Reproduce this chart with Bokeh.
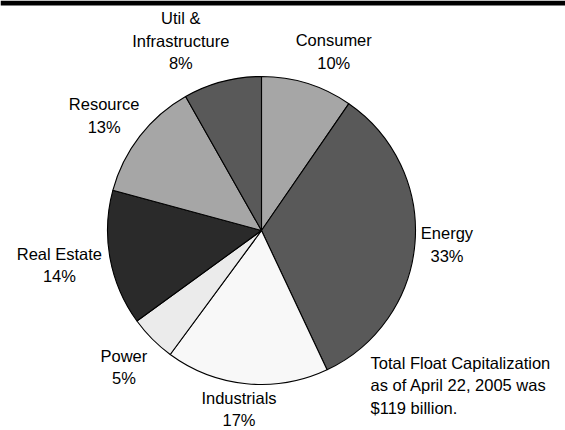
import math
from bokeh.plotting import figure
from bokeh.models import Range1d, BoxAnnotation, Label
from bokeh.core.properties import value
from bokeh.embed import file_html
from bokeh.resources import INLINE

# ---- data ----
categories = ["Consumer", "Energy", "Industrials", "Power", "Real Estate", "Resource", "Util & Infrastructure"]
shares = [9.6, 33.4, 17.1, 4.9, 14.2, 12.6, 8.2]
label_names = [["Consumer"], ["Energy"], ["Industrials"], ["Power"], ["Real Estate"], ["Resource"], ["Util &", "Infrastructure"]]
pct_labels = ["10%", "33%", "17%", "5%", "14%", "13%", "8%"]
note_lines = ["Total Float Capitalization", "as of April 22, 2005 was", "$119 billion."]

# ---- styles / layout ----
colors = ["#a6a6a6", "#595959", "#f8f8f8", "#ebebeb", "#2a2a2a", "#a6a6a6", "#595959"]
W, H = 565, 430
cx, cy, R = 261, 200, 154
FONT = "Liberation Sans"
FS = "16.5px"
LH = 22.5
# per-label (angle nudge in degrees, distance from centre)
label_tweaks = [(4.7, 193), (-0.4, 186), (1.6, 180), (0.0, 194), (0.8, 205), (-1.6, 195), (-8.3, 206)]

p = figure(width=W, height=H, x_range=Range1d(0, W), y_range=Range1d(0, H),
           output_backend="svg", toolbar_location=None, min_border=0,
           background_fill_color="white", border_fill_color="white")
p.axis.visible = False
p.grid.visible = False
p.outline_line_color = None

total = sum(shares)
cum = 0.0
starts, ends, mids = [], [], []
for s in shares:
    t1 = cum / total * 360.0
    cum += s
    t2 = cum / total * 360.0
    # clockwise from top -> bokeh angle (anticlockwise from +x)
    starts.append(math.radians(90 - t2))
    ends.append(math.radians(90 - t1))
    mids.append((t1 + t2) / 2)

p.wedge(x=cx, y=cy, radius=R, start_angle=starts, end_angle=ends,
        fill_color=colors, line_color="black", line_width=1.1)

tx, ty, tt = [], [], []
for i in range(len(categories)):
    dth, d = label_tweaks[i]
    th = math.radians(mids[i] + dth)
    ax = cx + d * math.sin(th)
    ay = cy + d * math.cos(th)
    lines = label_names[i] + [pct_labels[i]]
    n = len(lines)
    for j, ln in enumerate(lines):
        tx.append(ax)
        ty.append(ay + ((n - 1) / 2 - j) * LH)
        tt.append(ln)

p.text(x=tx, y=ty, text=tt, text_font=value(FONT), text_font_size=FS,
       text_align="center", text_baseline="middle", text_color="black")

for j, ln in enumerate(note_lines):
    p.add_layout(Label(x=370, y=H - 362 - j * LH, text=ln, text_font=FONT,
                       text_font_size=FS, text_align="left", text_baseline="middle",
                       text_color="black"))

p.add_layout(BoxAnnotation(top=H, bottom=H - 5, left=0, right=W,
                           fill_color="black", fill_alpha=1.0, line_color=None))

open("out.html", "w").write(file_html(p, INLINE))
